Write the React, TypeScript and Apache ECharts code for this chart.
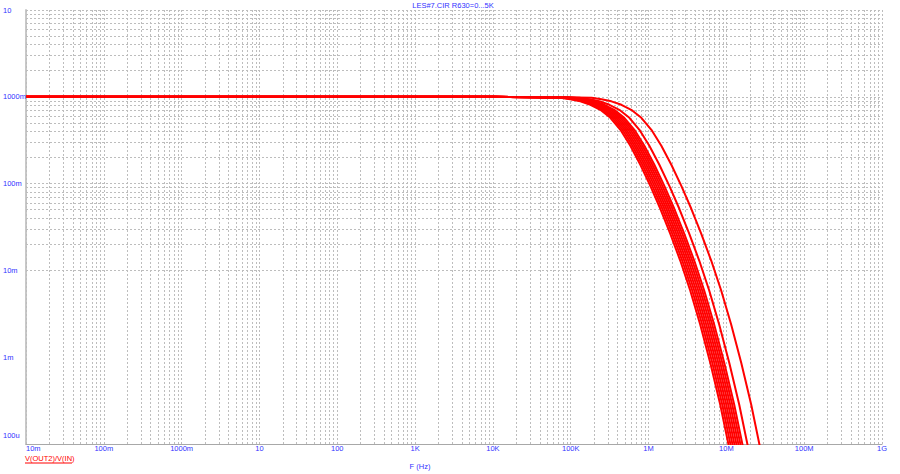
import React, { useEffect, useRef } from "react";
import * as echarts from "echarts";

// Axis ticks (SPICE-style labels)
const xTickValues = [0.01, 0.1, 1, 10, 100, 1e3, 1e4, 1e5, 1e6, 1e7, 1e8, 1e9];
const xTickLabels = ["10m", "100m", "1000m", "10", "100", "1K", "10K", "100K", "1M", "10M", "100M", "1G"];
const yTickValues = [1e-4, 1e-3, 1e-2, 1e-1, 1, 10];
const yTickLabels = ["100u", "1m", "10m", "100m", "1000m", "10"];
const gridMultipliers = [1, 2, 3, 4, 5, 6, 7, 8, 9];

// Flat pass-band start shared by all traces: [Hz, V(OUT2)/V(IN)]
const flatStart = [
  [0.01, 1],
  [10000, 1],
];

// Magnitude levels at which each trace's frequency was read
const levels = [
  0.987, 0.974, 0.936, 0.887, 0.809, 0.708, 0.573, 0.417, 0.273, 0.165, 0.0943, 0.0513, 0.0264, 0.0129,
  0.00582, 0.00236, 0.000862, 0.000283, 0.0000792,
];

// Frequencies (kHz) of each trace (R630 = 0 ... 5K) at the levels above
const traceR0 = [30.4, 73.8, 99.1, 133, 179, 240, 323, 435, 584, 785, 1055, 1417, 1905, 2560, 3440, 4620, 6210, 8350, 11200];
const traceR1 = [32.3, 78.3, 105, 141, 190, 255, 343, 462, 620, 833, 1119, 1503, 2021, 2716, 3650, 4902, 6589, 8859, 11883];
const traceR2 = [34.2, 83.1, 112, 150, 202, 270, 364, 490, 658, 884, 1188, 1596, 2145, 2883, 3873, 5202, 6992, 9402, 12611];
const traceR3 = [36.3, 88.1, 118, 159, 214, 287, 386, 519, 697, 937, 1260, 1692, 2275, 3057, 4107, 5516, 7415, 9970, 13373];
const traceR4 = [38.5, 93.5, 126, 169, 227, 304, 409, 551, 740, 995, 1337, 1795, 2414, 3244, 4358, 5854, 7868, 10579, 14190];
const traceR5 = [40.9, 99.2, 133, 179, 241, 323, 434, 585, 785, 1055, 1418, 1904, 2560, 3441, 4623, 6209, 8346, 11222, 15053];
const traceR6 = [43.4, 105, 141, 190, 255, 342, 461, 620, 833, 1119, 1504, 2021, 2717, 3651, 4905, 6588, 8855, 11907, 15971];
const traceR7 = [46.0, 112, 150, 201, 271, 363, 488, 658, 883, 1187, 1595, 2142, 2880, 3871, 5201, 6985, 9390, 12625, 16934];
const traceR8 = [53.3, 129, 174, 233, 314, 421, 567, 763, 1024, 1377, 1850, 2485, 3341, 4490, 6034, 8103, 10892, 14646, 19645];
const traceR9 = [76, 185, 248, 333, 448, 600, 808, 1088, 1460, 1963, 2638, 3543, 4763, 6400, 8600, 11550, 15525, 20875, 28000];

const traces = [traceR0, traceR1, traceR2, traceR3, traceR4, traceR5, traceR6, traceR7, traceR8, traceR9];

const TITLE = "LES#7.CIR R630=0...5K";
const X_NAME = "F (Hz)";
const TRACE_NAME = "V(OUT2)/V(IN)";

const BLUE = "#3232ff";
const RED = "#ff0000";
const FONT = 'Arial, "Liberation Sans", sans-serif';
const FS = 7.5;

function labelFor(values: number[], labels: string[], v: number) {
  const i = values.findIndex((t) => Math.abs(Math.log10(t) - Math.log10(v)) < 0.01);
  return i >= 0 ? labels[i] : "";
}

export default function App() {
  const ref = useRef<HTMLDivElement>(null);

  useEffect(() => {
    if (!ref.current) return;
    const chart = echarts.init(ref.current, undefined, { renderer: "svg" });

    const xGrid: any[] = [];
    for (let k = 0; k < xTickValues.length - 1; k++) {
      for (const m of gridMultipliers) xGrid.push({ xAxis: xTickValues[k] * m });
    }
    xGrid.push({ xAxis: xTickValues[xTickValues.length - 1] });
    const yGrid: any[] = [];
    for (let k = 0; k < yTickValues.length - 1; k++) {
      for (const m of gridMultipliers) yGrid.push({ yAxis: yTickValues[k] * m });
    }
    yGrid.push({ yAxis: yTickValues[yTickValues.length - 1] });

    const curveSeries = traces.map((tr, idx) => ({
      type: "line",
      name: `R630_${idx}`,
      data: [...flatStart, ...tr.map((f, i) => [f * 1000, levels[i]])],
      showSymbol: false,
      symbol: "none",
      smooth: false,
      clip: true,
      lineStyle: { color: RED, width: 2, join: "round" },
      silent: true,
      z: 5,
    }));

    chart.setOption({
      animation: false,
      backgroundColor: "#ffffff",
      grid: { left: 25, right: 18, top: 10, bottom: 30, containLabel: false },
      xAxis: {
        type: "log",
        logBase: 10,
        min: 0.01,
        max: 1e9,
        axisLine: { show: true, onZero: false, lineStyle: { color: "#a8a8a8", width: 1 } },
        axisTick: { show: false, customValues: xTickValues },
        splitLine: { show: false },
        minorSplitLine: { show: false },
        axisLabel: {
          customValues: xTickValues,
          alignMinLabel: "left",
          showMinLabel: true,
          showMaxLabel: true,
          margin: 0,
          color: BLUE,
          fontSize: FS,
          fontFamily: FONT,
          formatter: (v: number) => labelFor(xTickValues, xTickLabels, v),
        },
      },
      yAxis: {
        type: "log",
        logBase: 10,
        min: 1e-4,
        max: 10,
        axisLine: { show: true, onZero: false, lineStyle: { color: "#c8c8c8", width: 2 } },
        axisTick: { show: false, customValues: yTickValues },
        splitLine: { show: false },
        minorSplitLine: { show: false },
        axisLabel: {
          customValues: yTickValues,
          showMinLabel: true,
          showMaxLabel: true,
          align: "left",
          margin: 23,
          color: BLUE,
          fontSize: FS,
          fontFamily: FONT,
          formatter: (v: number) => {
            const s = labelFor(yTickValues, yTickLabels, v);
            return Math.abs(Math.log10(v) - Math.log10(yTickValues[0])) < 0.01 ? `{up|${s}}` : s;
          },
          rich: {
            up: { padding: [0, 0, 18, 0], color: BLUE, fontSize: FS, fontFamily: FONT },
          },
        },
      },
      series: [
        {
          type: "line",
          name: "grid",
          data: [[1, 1]],
          showSymbol: false,
          symbol: "none",
          lineStyle: { width: 0, opacity: 0 },
          silent: true,
          z: 1,
          markLine: {
            silent: true,
            symbol: ["none", "none"],
            label: { show: false },
            emphasis: { disabled: true },
            animation: false,
            lineStyle: { type: [2, 2], color: "#bdbdbd", width: 1 },
            data: [...xGrid, ...yGrid],
          },
        },
        ...curveSeries,
      ],
      graphic: [
        {
          type: "text",
          x: 453,
          y: 5,
          style: { text: TITLE, fill: BLUE, font: `${FS}px ${FONT}`, align: "center", verticalAlign: "middle" },
        },
        {
          type: "text",
          x: 420,
          y: 466,
          style: { text: X_NAME, fill: BLUE, font: `${FS}px ${FONT}`, align: "center", verticalAlign: "middle" },
        },
        {
          type: "text",
          x: 25,
          y: 458.5,
          style: { text: TRACE_NAME, fill: RED, font: `${FS}px ${FONT}`, align: "left", verticalAlign: "middle" },
        },
        {
          type: "line",
          shape: { x1: 25, y1: 463, x2: 72, y2: 463 },
          style: { stroke: RED, lineWidth: 1 },
        },
      ],
    });

    return () => chart.dispose();
  }, []);

  return (
    <div
      ref={ref}
      style={{ position: "absolute", left: 0, top: 0, width: 900, height: 474, background: "#fff" }}
    />
  );
}
